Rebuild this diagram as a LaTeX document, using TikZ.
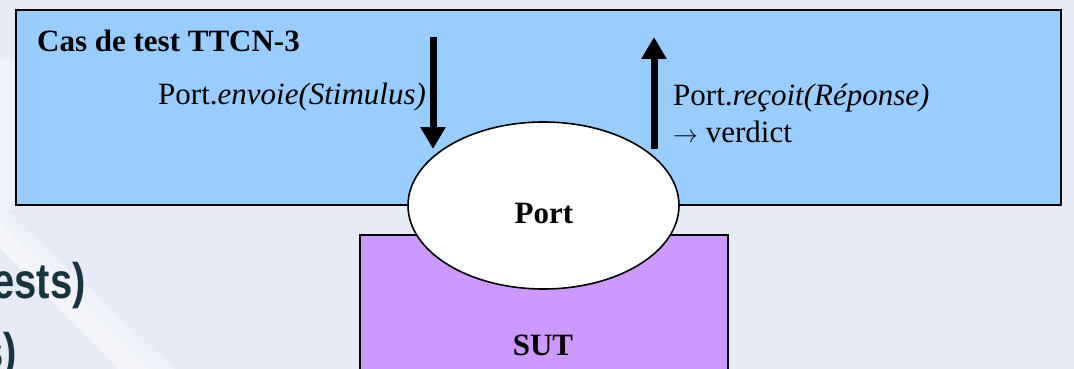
\documentclass[tikz,border=0pt]{standalone}
\usepackage{fontspec}
\setmainfont{Liberation Serif}
\newfontfamily\bgsans{Liberation Sans}
\usetikzlibrary{shapes.geometric,arrows.meta}
\definecolor{bgcol}{HTML}{E7EBF5}
\definecolor{bluebox}{HTML}{99CCFF}
\definecolor{purplebox}{HTML}{CC99FF}
\definecolor{slidetext}{HTML}{17343F}
\tikzset{
  boxframe/.style={draw=black, line width=1.6pt},
  bigtext/.style={font=\fontsize{31}{37}\selectfont, inner sep=0pt, anchor=base west},
  fatarrow/.style={line width=7pt, -{Triangle[width=24pt,length=22pt]}},
  slidefont/.style={font=\bgsans\bfseries\fontsize{50}{56}\selectfont, text=slidetext, inner sep=0pt, anchor=base east}
}
\begin{document}
\begin{tikzpicture}[x=1pt,y=-1pt]
\useasboundingbox (0,0) rectangle (1074,369);
% slide background
\fill[bgcol] (0,0) rectangle (1074,369);
\fill[white,opacity=0.35] (0,60) rectangle (14,210);
\fill[white,opacity=0.55] (0,222) -- (0,248) -- (118,369) -- (150,369) -- cycle;
\fill[white,opacity=0.3] (0,205) -- (0,222) -- (150,369) -- (175,369) -- cycle;
\node[slidefont] (s1) at (86,298) {\scalebox{0.8}[1]{ests)}};
\node[slidefont] (s2) at (17,368) {\scalebox{0.8}[1]{s)}};
% boxes
\node[boxframe, fill=bluebox, minimum width=1045pt, minimum height=195pt, inner sep=0pt, anchor=north west] (tc) at (15,9) {};
\node[boxframe, fill=purplebox, minimum width=368pt, minimum height=150pt, inner sep=0pt, anchor=north west] (sut) at (359,234) {};
\node[bigtext, font=\bfseries\fontsize{31}{37}\selectfont] (tclabel) at (37,52) {Cas de test TTCN-3};
\node[bigtext, font=\bfseries\fontsize{31}{37}\selectfont, anchor=base] (sutlabel) at (543,355) {SUT};
% texts
\node[bigtext] (send) at (158,104) {Port.\textit{envoie(Stimulus)}};
\node[bigtext] (recv) at (673,105) {Port.\textit{reçoit(Réponse)}};
\node[bigtext] (verdict) at (673,142) {$\rightarrow$ verdict};
% port
\node[ellipse, draw=black, line width=1.6pt, fill=white, minimum width=271pt, minimum height=167pt, inner sep=0pt] (port) at (543.5,205.5) {};
\node[bigtext, font=\bfseries\fontsize{31}{37}\selectfont, anchor=base] (portlabel) at (544,223) {Port};
% arrows
\coordinate (dtop) at (433,37);
\coordinate (dtip) at (433,149);
\coordinate (ubot) at (654,149);
\coordinate (utip) at (654,37);
\draw[fatarrow] (dtop) -- (dtip);
\draw[fatarrow] (ubot) -- (utip);
\end{tikzpicture}
\end{document}
